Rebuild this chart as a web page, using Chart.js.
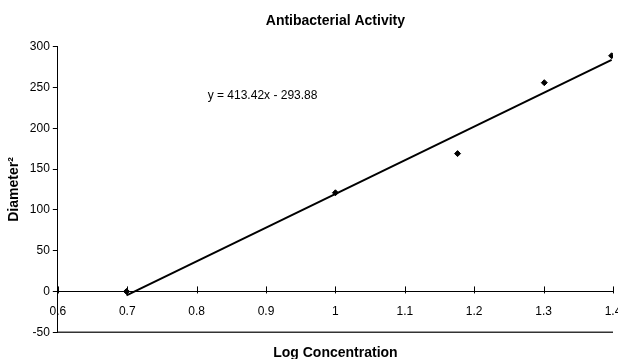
<!DOCTYPE html>
<html>
<head>
<meta charset="utf-8">
<script src="https://cdn.jsdelivr.net/npm/chart.js@4"></script>
<style>
  body { margin: 0; background: #fff; }
  #wrap { width: 618px; height: 359px; }
</style>
</head>
<body>
<div id="wrap"><canvas id="grafico" width="618" height="359"></canvas></div>
<script>
// Antibacterial Activity – dados
const logConc = [0.699, 1.0, 1.176, 1.301, 1.398];
const diamSq = [0, 121, 169, 256, 289];
const trendSlope = 413.42;
const trendIntercept = -293.88;
const eqLabel = 'y = 413.42x - 293.88';

const pontos = logConc.map((x, i) => ({ x: x, y: diamSq[i] }));
const xMin = Math.min(...logConc), xMax = Math.max(...logConc);
const tendencia = [xMin, xMax].map(x => ({ x: x, y: trendSlope * x + trendIntercept }));

const FONT = 'Liberation Sans, Arial, sans-serif';
Chart.defaults.font.family = FONT;
Chart.defaults.color = '#000';

// ticks cruzando o eixo em y=0, linha em -50 e texto da equação
const extras = {
  id: 'extras',
  afterDraw(chart) {
    const { ctx, chartArea, scales } = chart;
    const x = scales.x, y = scales.y;
    const y0 = y.getPixelForValue(0);
    ctx.save();
    ctx.strokeStyle = '#000';
    ctx.lineWidth = 1;
    x.ticks.forEach(t => {
      const px = Math.round(x.getPixelForValue(t.value)) + 0.5;
      ctx.beginPath();
      ctx.moveTo(px, y0 - 5);
      ctx.lineTo(px, y0 + 2);
      ctx.stroke();
    });
    ctx.strokeStyle = '#333';
    ctx.lineWidth = 1.5;
    const yb = y.getPixelForValue(-50);
    ctx.beginPath();
    ctx.moveTo(chartArea.left, yb);
    ctx.lineTo(chartArea.right, yb);
    ctx.stroke();
    ctx.fillStyle = '#000';
    ctx.font = '12px ' + FONT;
    ctx.textAlign = 'center';
    ctx.textBaseline = 'middle';
    ctx.fillText(eqLabel, x.getPixelForValue(0.895), y.getPixelForValue(240));
    ctx.restore();
  }
};

new Chart(document.getElementById('grafico'), {
  type: 'scatter',
  data: {
    datasets: [{
      label: 'Diameter²',
      data: pontos,
      pointStyle: 'rectRot',
      pointRadius: 3,
      backgroundColor: '#000',
      borderColor: '#000'
    }, {
      label: 'Linear',
      data: tendencia,
      showLine: true,
      pointRadius: 0,
      borderColor: '#000',
      borderWidth: 2
    }]
  },
  options: {
    responsive: false,
    animation: false,
    layout: { padding: { left: 6, right: 5, top: 0, bottom: -3 } },
    plugins: {
      legend: { display: false },
      tooltip: { enabled: false },
      title: {
        display: true,
        fullSize: false,
        text: 'Antibacterial Activity',
        font: { size: 14, weight: 'bold' },
        padding: { top: 13, bottom: 17 }
      },
      subtitle: {
        display: true,
        fullSize: false,
        position: 'bottom',
        text: 'Log Concentration',
        font: { size: 14, weight: 'bold' },
        padding: { top: 13, bottom: 0 }
      }
    },
    scales: {
      x: {
        type: 'linear',
        position: { y: 0 },
        min: 0.6,
        max: 1.4,
        grid: { display: false },
        border: { display: true, color: '#000', width: 1 },
        ticks: {
          stepSize: 0.1,
          font: { size: 12 },
          padding: 5,
          callback: v => String(+v.toFixed(2))
        },
        afterFit(scale) {
          scale.paddingLeft = 0;
          scale.paddingRight = 0;
        }
      },
      y: {
        min: -50,
        max: 300,
        grid: { drawOnChartArea: false, tickLength: 5, color: '#000' },
        border: { display: true, color: '#000', width: 1 },
        ticks: { stepSize: 50, font: { size: 12 }, padding: 3 },
        title: {
          display: true,
          text: 'Diameter²',
          font: { size: 14, weight: 'bold' },
          padding: { top: 0, bottom: 4 }
        }
      }
    }
  },
  plugins: [extras]
});
</script>
</body>
</html>
